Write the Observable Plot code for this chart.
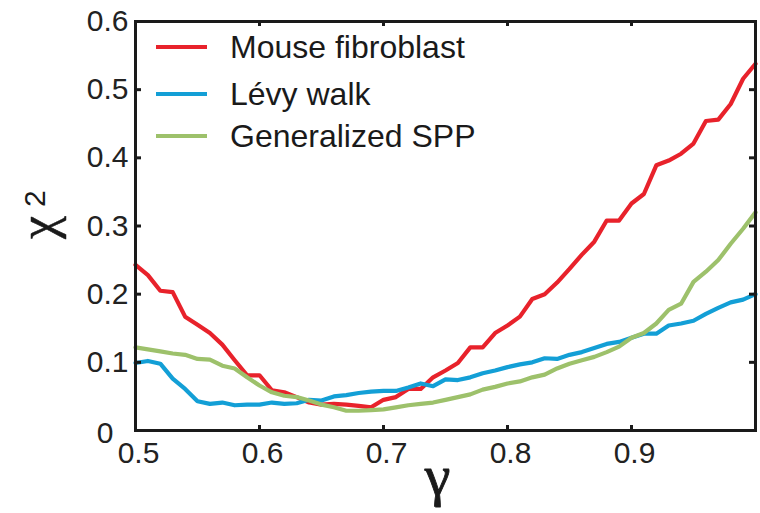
<!DOCTYPE html>
<html>
<head>
<meta charset="utf-8">
<script src="https://cdn.jsdelivr.net/npm/d3@7"></script>
<script src="https://cdn.jsdelivr.net/npm/@observablehq/plot@0.6"></script>
<style>
  html, body { margin: 0; padding: 0; background: #fff; }
  #chart { width: 760px; height: 513px; }
</style>
</head>
<body>
<div id="chart"></div>
<script>
const gamma = [0.50,0.51,0.52,0.53,0.54,0.55,0.56,0.57,0.58,0.59,
               0.60,0.61,0.62,0.63,0.64,0.65,0.66,0.67,0.68,0.69,
               0.70,0.71,0.72,0.73,0.74,0.75,0.76,0.77,0.78,0.79,
               0.80,0.81,0.82,0.83,0.84,0.85,0.86,0.87,0.88,0.89,
               0.90,0.91,0.92,0.93,0.94,0.95,0.96,0.97,0.98,0.99,1.00];

const mouseFibroblast = [0.243,0.228,0.205,0.203,0.167,0.155,0.143,0.126,0.103,0.081,
                         0.081,0.059,0.056,0.049,0.041,0.038,0.039,0.038,0.036,0.034,
                         0.045,0.049,0.061,0.061,0.078,0.088,0.099,0.122,0.122,0.143,
                         0.154,0.167,0.193,0.200,0.217,0.237,0.258,0.277,0.308,0.308,
                         0.333,0.347,0.389,0.396,0.406,0.421,0.454,0.456,0.479,0.516,0.538];

const levyWalk = [0.099,0.102,0.098,0.076,0.061,0.043,0.039,0.041,0.037,0.038,
                  0.038,0.041,0.039,0.040,0.045,0.044,0.050,0.052,0.055,0.057,
                  0.058,0.058,0.063,0.069,0.065,0.075,0.074,0.078,0.084,0.088,
                  0.093,0.097,0.100,0.106,0.105,0.111,0.115,0.121,0.127,0.130,
                  0.136,0.142,0.142,0.154,0.157,0.161,0.171,0.180,0.188,0.192,0.200];

const generalizedSPP = [0.122,0.119,0.116,0.113,0.111,0.105,0.104,0.095,0.091,0.078,
                        0.066,0.056,0.051,0.049,0.044,0.038,0.034,0.029,0.029,0.030,
                        0.031,0.034,0.037,0.039,0.041,0.045,0.049,0.053,0.060,0.064,
                        0.069,0.072,0.078,0.082,0.091,0.098,0.103,0.108,0.115,0.123,
                        0.136,0.143,0.157,0.177,0.186,0.218,0.233,0.250,0.274,0.296,0.320];

const seriesNames = ["Mouse fibroblast", "Lévy walk", "Generalized SPP"];
const seriesColors = ["#e8222b", "#139fd6", "#9dc16b"];
const xTicks = [0.5, 0.6, 0.7, 0.8, 0.9];
const yTicks = [0.1, 0.2, 0.3, 0.4, 0.5, 0.6];
const yZeroTick = [0];
const innerXTicks = [0.6, 0.7, 0.8, 0.9];
const innerYTicks = [0.1, 0.2, 0.3, 0.4, 0.5];

const seriesValues = [mouseFibroblast, levyWalk, generalizedSPP];
const table = [];
seriesNames.forEach((name, k) => {
  gamma.forEach((g, i) => table.push({series: name, gamma: g, chi2: seriesValues[k][i]}));
});

const W = 760, H = 513;
const mL = 135, mR = 5, mT = 21, mB = 83;
const pw = W - mL - mR, ph = H - mT - mB;
const tk = 6;
const ink = "#1a1a1a";
const serif = "Liberation Serif, Times New Roman, serif";

const plot = Plot.plot({
  width: W,
  height: H,
  marginLeft: mL,
  marginRight: mR,
  marginTop: mT,
  marginBottom: mB,
  style: {fontFamily: "Liberation Sans, Arial, Helvetica, sans-serif", background: "#fff", color: "#222"},
  x: {domain: [0.5, 1.0]},
  y: {domain: [0, 0.6]},
  color: {domain: seriesNames, range: seriesColors},
  marks: [
    Plot.line(table, {x: "gamma", y: "chi2", stroke: "series", z: "series", strokeWidth: 4.2, strokeLinejoin: "round", strokeLinecap: "round"}),
    Plot.frame({stroke: ink, strokeWidth: 3}),
    Plot.tickY(innerYTicks, {y: d => d, insetRight: pw - tk, stroke: ink, strokeWidth: 3}),
    Plot.tickY(innerYTicks, {y: d => d, insetLeft: pw - tk, stroke: ink, strokeWidth: 3}),
    Plot.tickX(innerXTicks, {x: d => d, insetTop: ph - 5, stroke: ink, strokeWidth: 3}),
    Plot.tickX(innerXTicks, {x: d => d, insetBottom: ph - 5, stroke: ink, strokeWidth: 3}),
    Plot.axisX({ticks: xTicks, tickSize: 0, tickPadding: 11, fontSize: 30, tickFormat: d => d.toFixed(1), label: null, dx: 3}),
    Plot.axisY({ticks: yTicks, tickSize: 0, tickPadding: 7, fontSize: 30, tickFormat: d => d.toFixed(1), label: null}),
    Plot.axisY({ticks: yZeroTick, tickSize: 0, tickPadding: 22, fontSize: 30, tickFormat: d => "0", label: null, dy: 3}),
    Plot.text(["χ"], {frameAnchor: "left", dx: -97, dy: 13, rotate: -90, fontSize: 52, fontFamily: serif, fill: ink, stroke: ink, strokeWidth: 0.5}),
    Plot.text(["2"], {frameAnchor: "left", dx: -100, dy: -19, rotate: -90, fontSize: 30, fill: ink}),
    Plot.text(["γ"], {frameAnchor: "bottom", dx: -8, dy: 64, fontSize: 58, fontFamily: serif, fill: ink, stroke: ink, strokeWidth: 0.9})
  ]
});

// Legend (inside the plot area, top-left)
const svg = d3.select(plot);
const legendRows = [47, 94, 136];
const lg = svg.append("g").attr("text-anchor", "start");
seriesNames.forEach((name, i) => {
  lg.append("line")
    .attr("x1", 156).attr("x2", 207)
    .attr("y1", legendRows[i]).attr("y2", legendRows[i])
    .attr("stroke", seriesColors[i]).attr("stroke-width", 4.2);
  lg.append("text")
    .attr("x", 230).attr("y", legendRows[i]).attr("dy", "0.35em")
    .attr("text-anchor", "start")
    .attr("font-size", 32).attr("fill", ink)
    .attr("font-family", "Liberation Sans, Arial, Helvetica, sans-serif")
    .text(name);
});

document.getElementById("chart").appendChild(plot);
</script>
</body>
</html>
